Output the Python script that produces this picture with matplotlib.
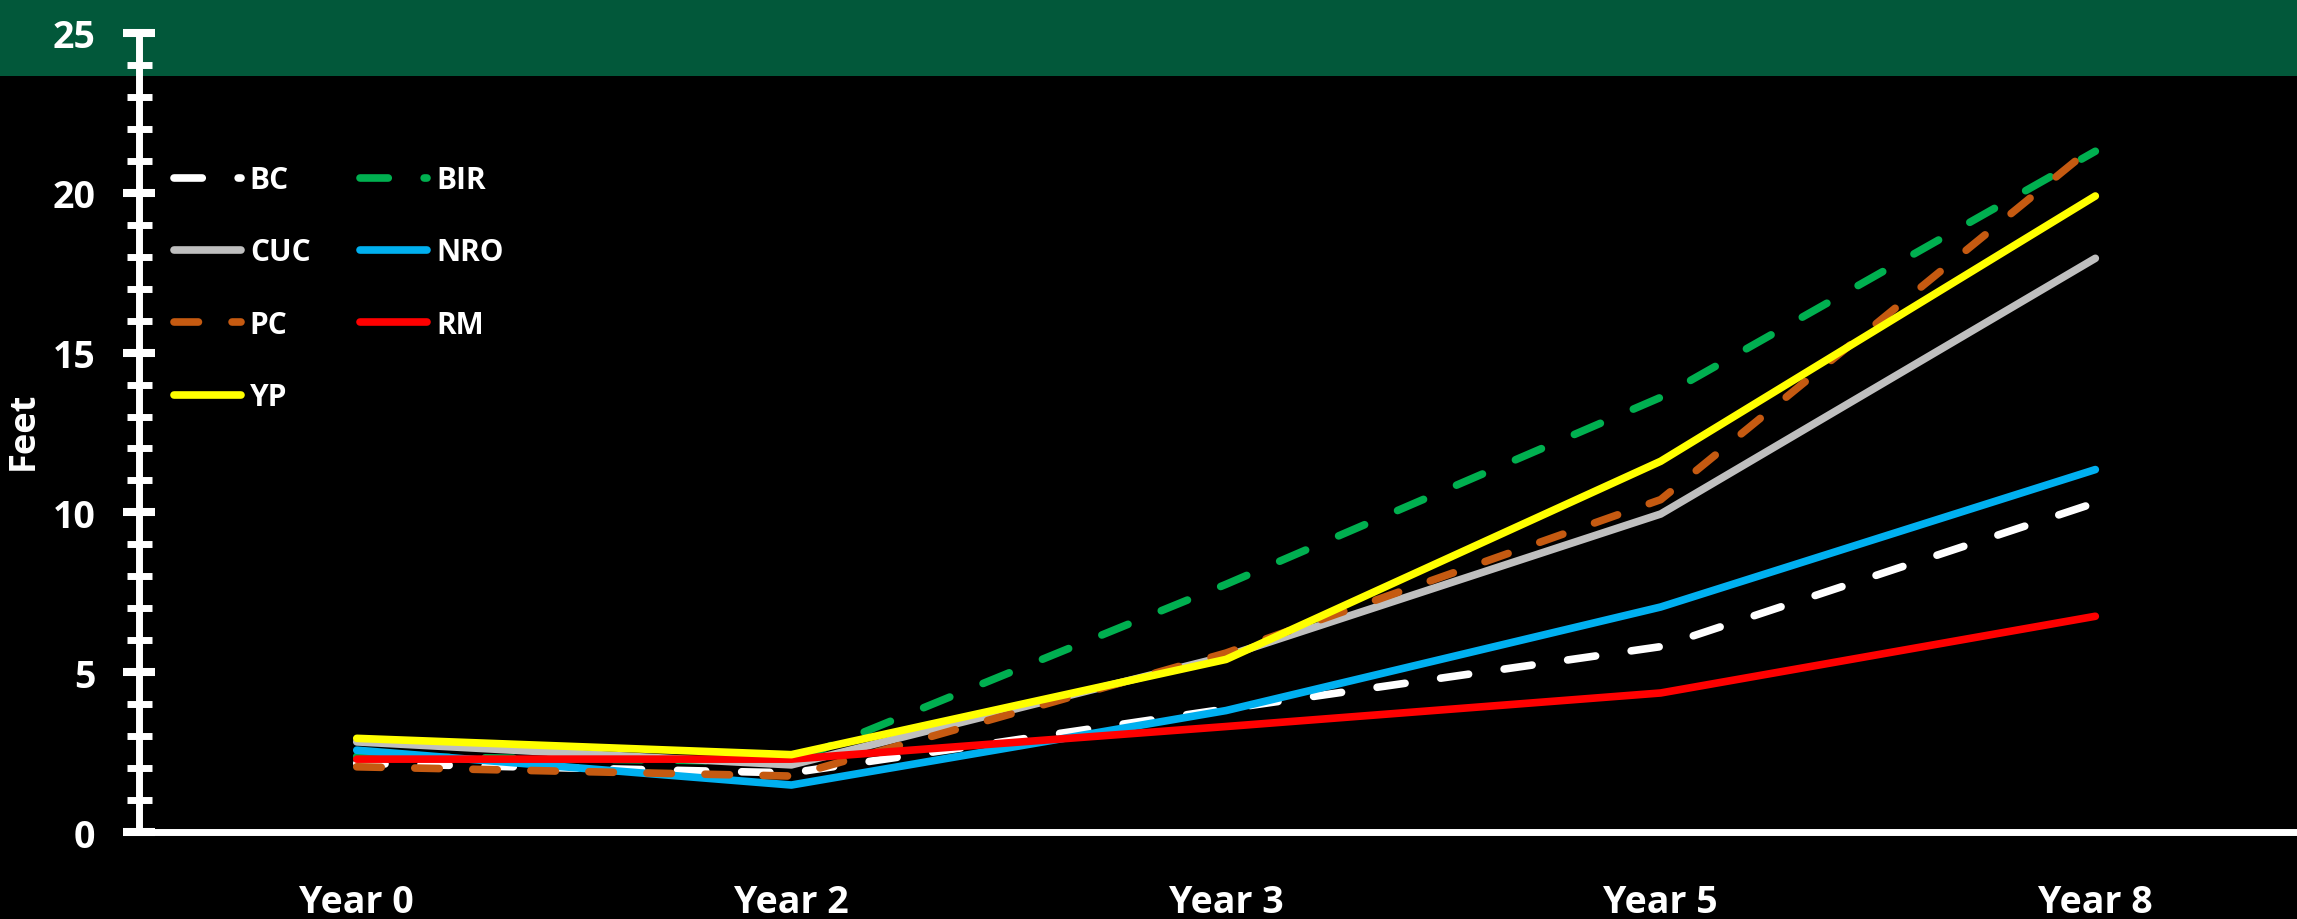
#!/usr/bin/env python3
"""
Tree height by species over time (feet), line chart on black with green header band.
"""
# --- load libraries ------------------------------------------------------------------------------
import matplotlib
matplotlib.use("Agg")
import matplotlib.pyplot as plt
from matplotlib.patches import Rectangle
from matplotlib.ticker import MultipleLocator

# --- data ----------------------------------------------------------------------------------------
YEARS = ["Year 0", "Year 2", "Year 3", "Year 5", "Year 8"]

BC = [2.15, 1.85, 3.85, 5.8, 10.3]
BIR = [2.37, 2.2, 7.75, 13.6, 21.3]
CUC = [2.82, 2.1, 5.5, 9.95, 17.95]
NRO = [2.56, 1.47, 3.8, 7.04, 11.34]
PC = [2.04, 1.75, 5.6, 10.4, 21.5]
RM = [2.28, 2.28, 3.3, 4.35, 6.75]
YP = [2.93, 2.42, 5.4, 11.6, 19.9]

# series in drawing order (Excel series order)
SERIES = [
    ("BC", BC, "#FFFFFF", True),
    ("BIR", BIR, "#00B050", True),
    ("CUC", CUC, "#BFBFBF", False),
    ("NRO", NRO, "#00B0F0", False),
    ("PC", PC, "#C55A11", True),
    ("RM", RM, "#FF0000", False),
    ("YP", YP, "#FFFF00", False),
]
LEGEND_ORDER = ["BC", "CUC", "PC", "YP", "BIR", "NRO", "RM"]   # fills two columns row-wise

BAND = "#02583A"
W, H = 2297, 920

plt.rcParams["font.family"] = ["Open Sans", "DejaVu Sans"]
plt.rcParams["font.weight"] = "bold"

# --- figure --------------------------------------------------------------------------------------
fig = plt.figure(figsize=(W / 100, H / 100), dpi=100, facecolor="black")
fig.patches.append(Rectangle((0, 1 - 77 / H), 1, 77 / H, transform=fig.transFigure,
                             facecolor=BAND, edgecolor="none", zorder=0))

ax = fig.add_axes([139 / W, 1 - 833 / H, 1 - 139 / W, (833 - 34) / H])
ax.set_facecolor("none")
ax.set_zorder(2)

x = range(len(YEARS))
handles = {}
for name, vals, colour, dashed in SERIES:
    kw = dict(color=colour, linewidth=5.5, solid_capstyle="round", dash_capstyle="round",
              solid_joinstyle="round", dash_joinstyle="round", label=name, clip_on=False)
    if dashed:
        kw["linestyle"] = (0, (3.7, 4.7)) if name != "PC" else (0, (3.2, 4.4))
    (ln,) = ax.plot(x, vals, **kw)
    handles[name] = ln

ax.set_xlim(-0.501, 4.464)
ax.set_ylim(0, 25)
ax.set_xticks(list(x))
ax.set_xticklabels(YEARS)
ax.yaxis.set_major_locator(MultipleLocator(5))
ax.yaxis.set_minor_locator(MultipleLocator(1))

for side in ("top", "right"):
    ax.spines[side].set_visible(False)
for side in ("left", "bottom"):
    ax.spines[side].set_color("white")
    ax.spines[side].set_linewidth(5)
    ax.spines[side].set_capstyle("butt")

ax.tick_params(axis="y", which="major", direction="inout", length=23, width=5.8,
               color="white", labelcolor="white", labelsize=27, pad=20)
ax.tick_params(axis="y", which="minor", direction="inout", length=18, width=5,
               color="white")
ax.tick_params(axis="x", length=0, labelcolor="white", labelsize=27, pad=37)
for lbl in ax.get_yticklabels() + ax.get_xticklabels():
    lbl.set_fontweight("bold")

ax.set_ylabel("Feet", color="white", fontsize=26, fontweight="bold", va="center")
ax.yaxis.set_label_coords(24 / W, 1 - 431 / H, transform=fig.transFigure)

fig.legend([handles[n] for n in LEGEND_ORDER], LEGEND_ORDER, ncol=2,
           loc="upper left", bbox_to_anchor=(174 / W, 1 - 166 / H),
           bbox_transform=fig.transFigure, frameon=False,
           labelcolor="white", handlelength=2.24, handletextpad=0.3,
           columnspacing=1.67, labelspacing=1.42, borderpad=0, borderaxespad=0,
           prop={"weight": "bold", "size": 21.5})

fig.savefig("out.png", dpi=100, facecolor="black")
